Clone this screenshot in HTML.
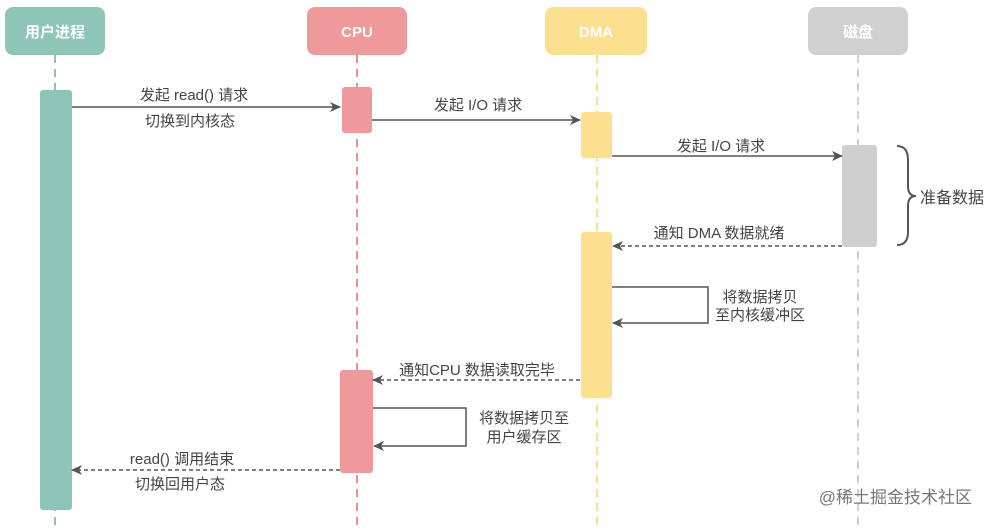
<!DOCTYPE html>
<html><head><meta charset="utf-8"><style>
body{margin:0;background:#fff;}
svg text{font-family:"Liberation Sans","Noto Sans CJK SC",sans-serif;}
</style></head><body>
<svg width="987" height="525" viewBox="0 0 987 525" xmlns="http://www.w3.org/2000/svg">
<defs>
<marker id="a" markerWidth="12" markerHeight="12" refX="10" refY="6" orient="auto" markerUnits="userSpaceOnUse">
<path d="M0,1 L11,6 L0,11 L3,6 Z" fill="#555"/></marker>
</defs>
<g stroke-width="2" stroke-dasharray="8,6">
<line x1="55" y1="55" x2="55" y2="525" stroke="#8dc5b9"/>
<line x1="357" y1="55" x2="357" y2="525" stroke="#ee8f92"/>
<line x1="597" y1="55" x2="597" y2="525" stroke="#fde08f"/>
<line x1="858" y1="55" x2="858" y2="525" stroke="#cfcfcf"/>
</g>
<rect x="5" y="7" width="100" height="48" rx="8" fill="#8dc5b9"/>
<rect x="307" y="7" width="100" height="48" rx="8" fill="#f0999a"/>
<rect x="545" y="7" width="102" height="48" rx="8" fill="#fde08f"/>
<rect x="808" y="7" width="100" height="48" rx="8" fill="#d0d0d0"/>
<g fill="#fff" font-size="15" font-weight="bold" text-anchor="middle">
<text x="55" y="37">用户进程</text>
<text x="357" y="37">CPU</text>
<text x="596" y="37">DMA</text>
<text x="858" y="37">磁盘</text>
</g>
<rect x="40" y="90" width="32" height="420" rx="3" fill="#8dc5b9"/>
<rect x="342" y="87" width="30" height="46" rx="3" fill="#f0999a"/>
<rect x="340" y="370" width="33" height="103" rx="3" fill="#f0999a"/>
<rect x="581" y="112" width="31" height="46" rx="3" fill="#fde08f"/>
<rect x="581" y="232" width="31" height="166" rx="3" fill="#fde08f"/>
<rect x="842" y="145" width="35" height="102" rx="3" fill="#cfcfcf"/>
<g stroke="#555" stroke-width="1.5" fill="none">
<line x1="72" y1="107" x2="340" y2="107" marker-end="url(#a)"/>
<line x1="372" y1="120" x2="580" y2="120" marker-end="url(#a)"/>
<line x1="612" y1="156" x2="842" y2="156" marker-end="url(#a)"/>
<line x1="842" y1="246" x2="613" y2="246" stroke-dasharray="4,3" marker-end="url(#a)"/>
<polyline points="612,287 708,287 708,323 613,323" marker-end="url(#a)"/>
<line x1="580" y1="380" x2="373" y2="380" stroke-dasharray="4,3" marker-end="url(#a)"/>
<polyline points="373,408 466,408 466,446 374,446" marker-end="url(#a)"/>
<line x1="340" y1="470" x2="72" y2="470" stroke-dasharray="4,3" marker-end="url(#a)"/>
<path d="M897,146 Q908,146 908,160 L908,186 Q908,196 916,196 Q908,196 908,206 L908,232 Q908,245 897,245" stroke-width="2"/>
</g>
<g fill="#444" font-size="15" text-anchor="middle">
<text x="194" y="100">发起 read() 请求</text>
<text x="190" y="126">切换到内核态</text>
<text x="478" y="110">发起 I/O 请求</text>
<text x="721" y="151">发起 I/O 请求</text>
<text x="719" y="238">通知 DMA 数据就绪</text>
<text x="760" y="302">将数据拷贝</text>
<text x="760" y="320">至内核缓冲区</text>
<text x="477" y="375">通知CPU 数据读取完毕</text>
<text x="524" y="423">将数据拷贝至</text>
<text x="524" y="442">用户缓存区</text>
<text x="182" y="464">read() 调用结束</text>
<text x="180" y="489">切换回用户态</text>
<text x="920" y="203" text-anchor="start" font-size="16">准备数据</text>
</g>
<text x="972" y="503" fill="#777" font-size="17" text-anchor="end">@稀土掘金技术社区</text>
</svg>
</body></html>
